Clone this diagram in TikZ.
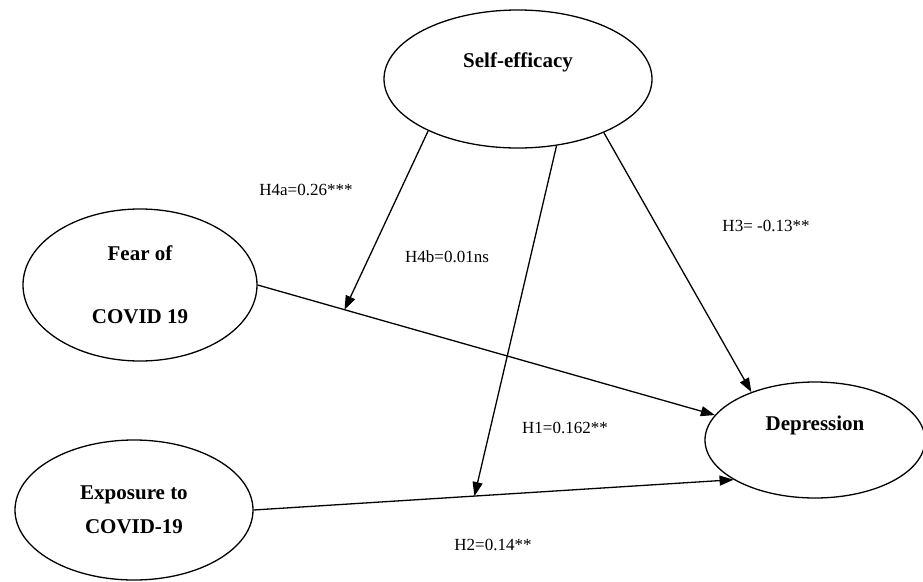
\documentclass[tikz,border=0pt]{standalone}
\usepackage{fontspec}
\setmainfont{Liberation Serif}
\usetikzlibrary{shapes.geometric,arrows.meta}

\begin{document}
\begin{tikzpicture}[x = 1pt, y = -1pt,
	latent/.style = {ellipse, draw, line width = 1.3pt, inner sep = 0pt},
	construct/.style = {font = \fontsize{21}{25}\selectfont\bfseries, align = center},
	link/.style = {line width = 1.3pt, -{Triangle[length = 14pt, width = 10pt]}},
	coef/.style = {font = \fontsize{17}{20}\selectfont}]
	\useasboundingbox (0,0) rectangle (923,581);
	% constructs
	\node[latent, minimum width = 268pt, minimum height = 138pt](SE) at (518,79){};
	\node[construct](SEtext) at ([yshift = 17pt]SE.center){Self-efficacy};
	\node[latent, construct, minimum width = 234pt, minimum height = 152pt](FC) at (140,285){Fear of\\[38pt]COVID 19};
	\node[latent, construct, minimum width = 238pt, minimum height = 140pt](EX) at (134,510){Exposure to\\[9pt]COVID-19};
	\node[latent, minimum width = 220pt, minimum height = 116pt](DEP) at (815,440){};
	\node[construct](DEPtext) at ([yshift = 15pt]DEP.center){Depression};
	% paths
	\draw[link] (FC.east) -- coordinate[pos = 0.19](M1) (DEP.166);
	\draw[link] (EX.east) -- coordinate[pos = 0.46](M2) (DEP.206);
	\draw[link] (SE.328) -- (DEP.143);
	\draw[link] (SE.210) -- (M1);
	\draw[link] (SE.300) -- (M2);
	% coefficients
	\node[coef](H4a) at (306,190){H4a=0.26***};
	\node[coef](H4b) at (447,257){H4b=0.01ns};
	\node[coef](H3) at (766,226){H3= -0.13**};
	\node[coef](H1) at (565,428){H1=0.162**};
	\node[coef](H2) at (493,545){H2=0.14**};
\end{tikzpicture}
\end{document}
